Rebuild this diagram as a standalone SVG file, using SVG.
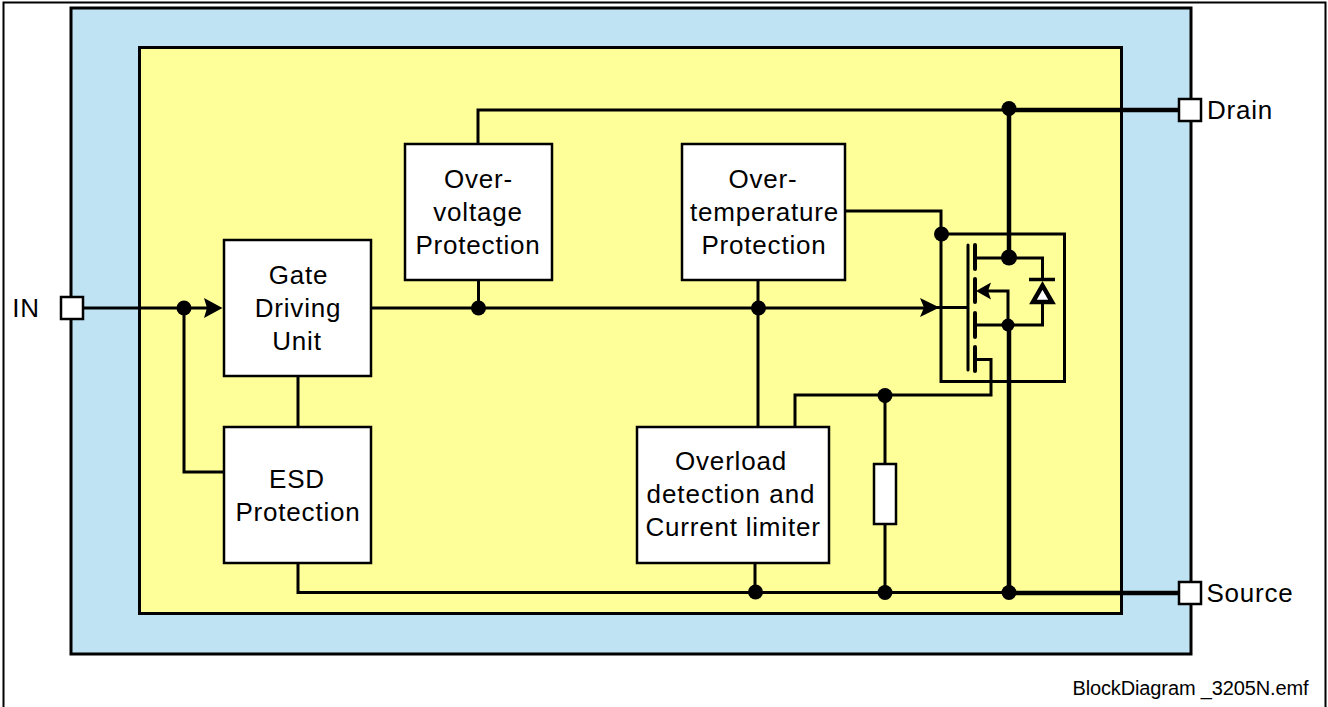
<svg xmlns="http://www.w3.org/2000/svg" width="1328" height="707" viewBox="0 0 1328 707">
<style>
.box{fill:#fff;stroke:#000;stroke-width:2.5}
.w{fill:none;stroke:#000;stroke-width:3}
.t{fill:none;stroke:#000;stroke-width:4.5}
.d{fill:#000}
text{font-family:"Liberation Sans",Arial,sans-serif;font-size:26px;letter-spacing:.8px;fill:#000;text-anchor:middle}
</style>
<rect width="1328" height="707" fill="#fff"/>
<path d="M3.5 707V2.5H1325.5V707" fill="none" stroke="#000" stroke-width="2"/>
<rect id="package" x="71" y="8" width="1120" height="646" fill="#bfe3f3" stroke="#000" stroke-width="3"/>
<rect id="chip" x="139.500" y="47.500" width="982" height="566" fill="#ffff99" stroke="#000" stroke-width="3"/>
<g id="connectors">
<path class="w" d="M83 308H210M184 308V472H224M298 376V427M298 563V592.500H1010M755 563V592M371 308H925M478.500 280V308M758 280V427M478 144V110H1009M845 211H941V234M885 395V593"/>
<path class="t" d="M1009 110H1180M1009 110V258M1009 325V593M1009 593H1180"/>
<path class="w" d="M941 234H1064.500V381.500H941ZM925 307.500H967"/>
<path class="w" d="M968 245V370" stroke-linecap="round"/>
<path class="w" style="stroke-width:4" d="M975 245V269M975 279V302M975 313V337M975 347V371" stroke-linecap="round"/>
<path class="w" d="M975 258H1042.500V280M1042.500 303V325H975M1008 325V291H985M975 359.500H991V395H795V427"/>
<path class="w" style="stroke-width:3.500" d="M1029 279.500H1055"/>
<path d="M1042.500 285.500L1052 302H1033Z" fill="#fff" stroke="#000" stroke-width="4.500"/>
<path class="d" d="M222.500 308L204 298L207 308L204 318ZM939.500 307.500L920 298L924 307.500L920 317ZM976 291L991 282.500L988 291L991 299.500Z"/>
<circle class="d" cx="184" cy="308" r="7.500"/>
<circle class="d" cx="478.500" cy="308" r="7.500"/>
<circle class="d" cx="758.500" cy="308" r="7.500"/>
<circle class="d" cx="1009" cy="108.500" r="7.500"/>
<circle class="d" cx="941.500" cy="234" r="7.500"/>
<circle class="d" cx="1009" cy="257.500" r="8"/>
<circle class="d" cx="1008" cy="325" r="6.500"/>
<circle class="d" cx="885" cy="395.500" r="7.500"/>
<circle class="d" cx="755.500" cy="592" r="7.500"/>
<circle class="d" cx="885" cy="592.500" r="7.500"/>
<circle class="d" cx="1009" cy="592.500" r="7.500"/>
</g>
<g id="resistor"><rect class="box" x="874" y="464" width="22" height="60"/></g>
<g id="gate-driving-unit"><rect class="box" x="224" y="240" width="147" height="136"/><text x="298.500" y="284">Gate</text><text x="298" y="317">Driving</text><text x="297" y="350">Unit</text></g>
<g id="esd-protection"><rect class="box" x="224" y="427" width="147" height="136"/><text x="297" y="488">ESD</text><text x="298" y="521">Protection</text></g>
<g id="overvoltage-protection"><rect class="box" x="405" y="144" width="147" height="136"/><text x="478.500" y="188">Over-</text><text x="478" y="221">voltage</text><text x="478" y="254">Protection</text></g>
<g id="overtemperature-protection"><rect class="box" x="682" y="144" width="163" height="136"/><text x="763" y="188">Over-</text><text x="764.500" y="221">temperature</text><text x="764" y="254">Protection</text></g>
<g id="overload-detection"><rect class="box" x="637" y="427" width="192" height="136"/><text x="731" y="470">Overload</text><text x="731" y="503" style="letter-spacing:1px">detection and</text><text x="733" y="536">Current limiter</text></g>
<g id="port-in"><rect class="box" x="61" y="297" width="22" height="22"/><text x="26" y="317">IN</text></g>
<g id="port-drain"><rect class="box" x="1179" y="99" width="22" height="22"/><text x="1240" y="119">Drain</text></g>
<g id="port-source"><rect class="box" x="1179" y="582" width="22" height="22"/><text x="1250" y="602">Source</text></g>
<text x="1190.500" y="695" style="font-size:20px;letter-spacing:-.13px">BlockDiagram _3205N.emf</text>
</svg>
